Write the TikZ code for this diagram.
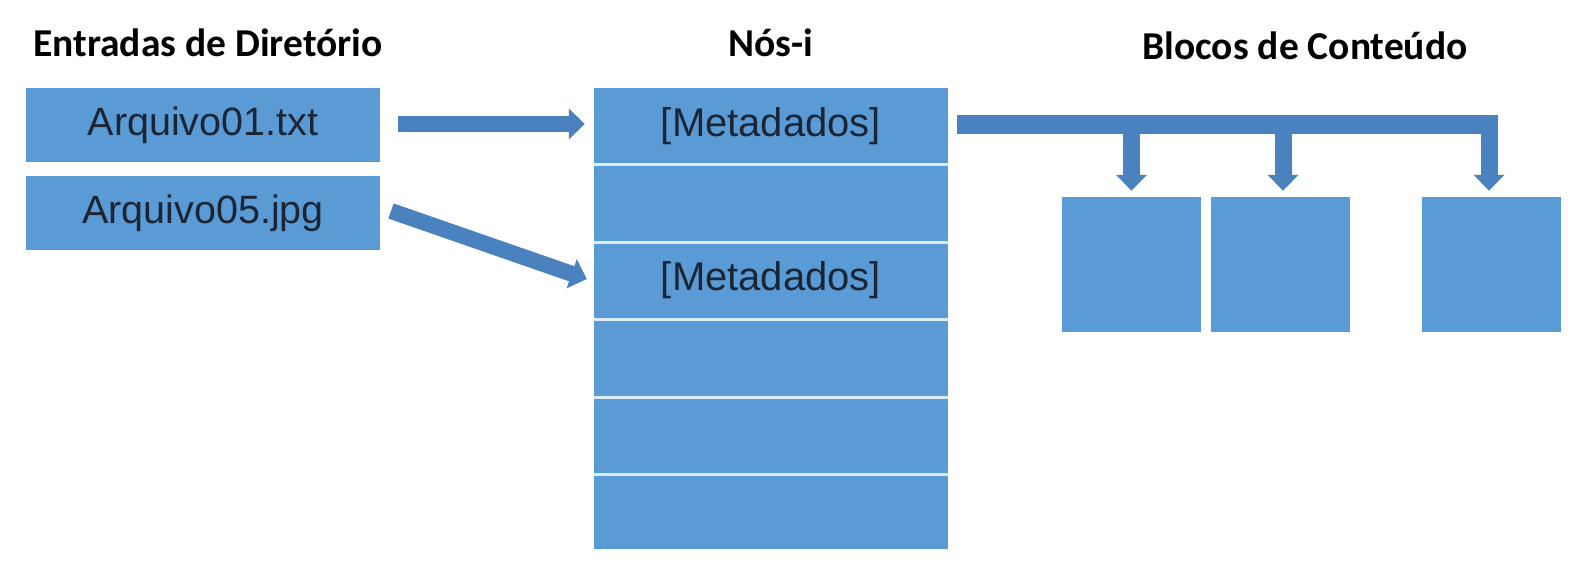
\documentclass[tikz,border=0pt]{standalone}
\usepackage{fontspec}
\setmainfont{Liberation Sans}
\newfontfamily\titlefont{Carlito}
\usetikzlibrary{arrows.meta}
\definecolor{boxblue}{HTML}{5B9BD5}
\definecolor{arrowblue}{HTML}{4A82C0}
\definecolor{txtdark}{HTML}{1A2535}
\definecolor{sepline}{HTML}{DDEBF7}
\begin{document}
\begin{tikzpicture}[x=1pt,y=-1pt,
  entry/.style={fill=boxblue,draw=none,minimum width=354pt,minimum height=74pt,inner sep=0pt,text=txtdark,font=\fontsize{39.5}{40}\selectfont},
  row/.style={fill=boxblue,draw=none,minimum width=354pt,inner sep=0pt,text=txtdark,font=\fontsize{40}{40}\selectfont},
  block/.style={fill=boxblue,draw=none,minimum width=139pt,minimum height=135pt,inner sep=0pt},
  ttl/.style={font=\titlefont\bfseries\fontsize{39.5}{42}\selectfont,text=black,inner sep=0pt,anchor=base},
  sep/.style={draw=sepline,line width=3pt},
  fat/.style={draw=arrowblue,line width=16pt,-{Triangle[length=16pt,width=30pt]}},
  bar/.style={draw=arrowblue,line width=19pt},
]
\useasboundingbox (0,0) rectangle (1587,577);
\fill[white] (0,0) rectangle (1587,577);
% titles
\node[ttl] (t1) at (208,57) {Entradas de Diretório};
\node[ttl] (t2) at (771,57) {Nós-i};
\node[ttl] (t3) at (1305,60) {Blocos de Conteúdo};
% entries
\node[entry] (e1) at (203,125) {Arquivo01.txt};
\node[entry] (e2) at (203,213.5) {Arquivo05.jpg};
% inode rows
\node[row,minimum height=76pt] (r1) at (771,126) {[Metadados]};
\node[row,minimum height=78pt] (r2) at (771,203) {};
\node[row,minimum height=77pt] (r3) at (771,280.5) {[Metadados]};
\node[row,minimum height=78pt] (r4) at (771,358) {};
\node[row,minimum height=77pt] (r5) at (771,435.5) {};
\node[row,minimum height=75pt] (r6) at (771,511.5) {};
\draw[sep] (r1.south west) -- (r1.south east);
\draw[sep] (r2.south west) -- (r2.south east);
\draw[sep] (r3.south west) -- (r3.south east);
\draw[sep] (r4.south west) -- (r4.south east);
\draw[sep] (r5.south west) -- (r5.south east);
% blocks
\node[block] (b1) at (1131.5,264.5) {};
\node[block] (b2) at (1280,264.5) {};
\node[block] (b3) at (1491.5,264.5) {};
% arrows
\coordinate (a1s) at (398,124);
\coordinate (a2s) at (391,211);
\draw[fat] (a1s) -- ([xshift=-9pt,yshift=2pt]r1.west);
\draw[fat] (a2s) -- ([xshift=-7pt,yshift=1.5pt]r3.west);
\coordinate (bs) at (957,125);
\coordinate (bk1) at (b1.north |- bs);
\coordinate (bk2) at ([xshift=3pt]b2.north |- bs);
\coordinate (bk3) at ([xshift=-2.5pt]b3.north |- bs);
\draw[bar] (bs) -- ([xshift=8.5pt]bk3);
\draw[fat,line width=17pt] (bk1) -- ([yshift=6pt]b1.north);
\draw[fat,line width=17pt] (bk2) -- ([xshift=3pt,yshift=6pt]b2.north);
\draw[fat,line width=17pt] (bk3) -- ([xshift=-2.5pt,yshift=6pt]b3.north);
\end{tikzpicture}
\end{document}
